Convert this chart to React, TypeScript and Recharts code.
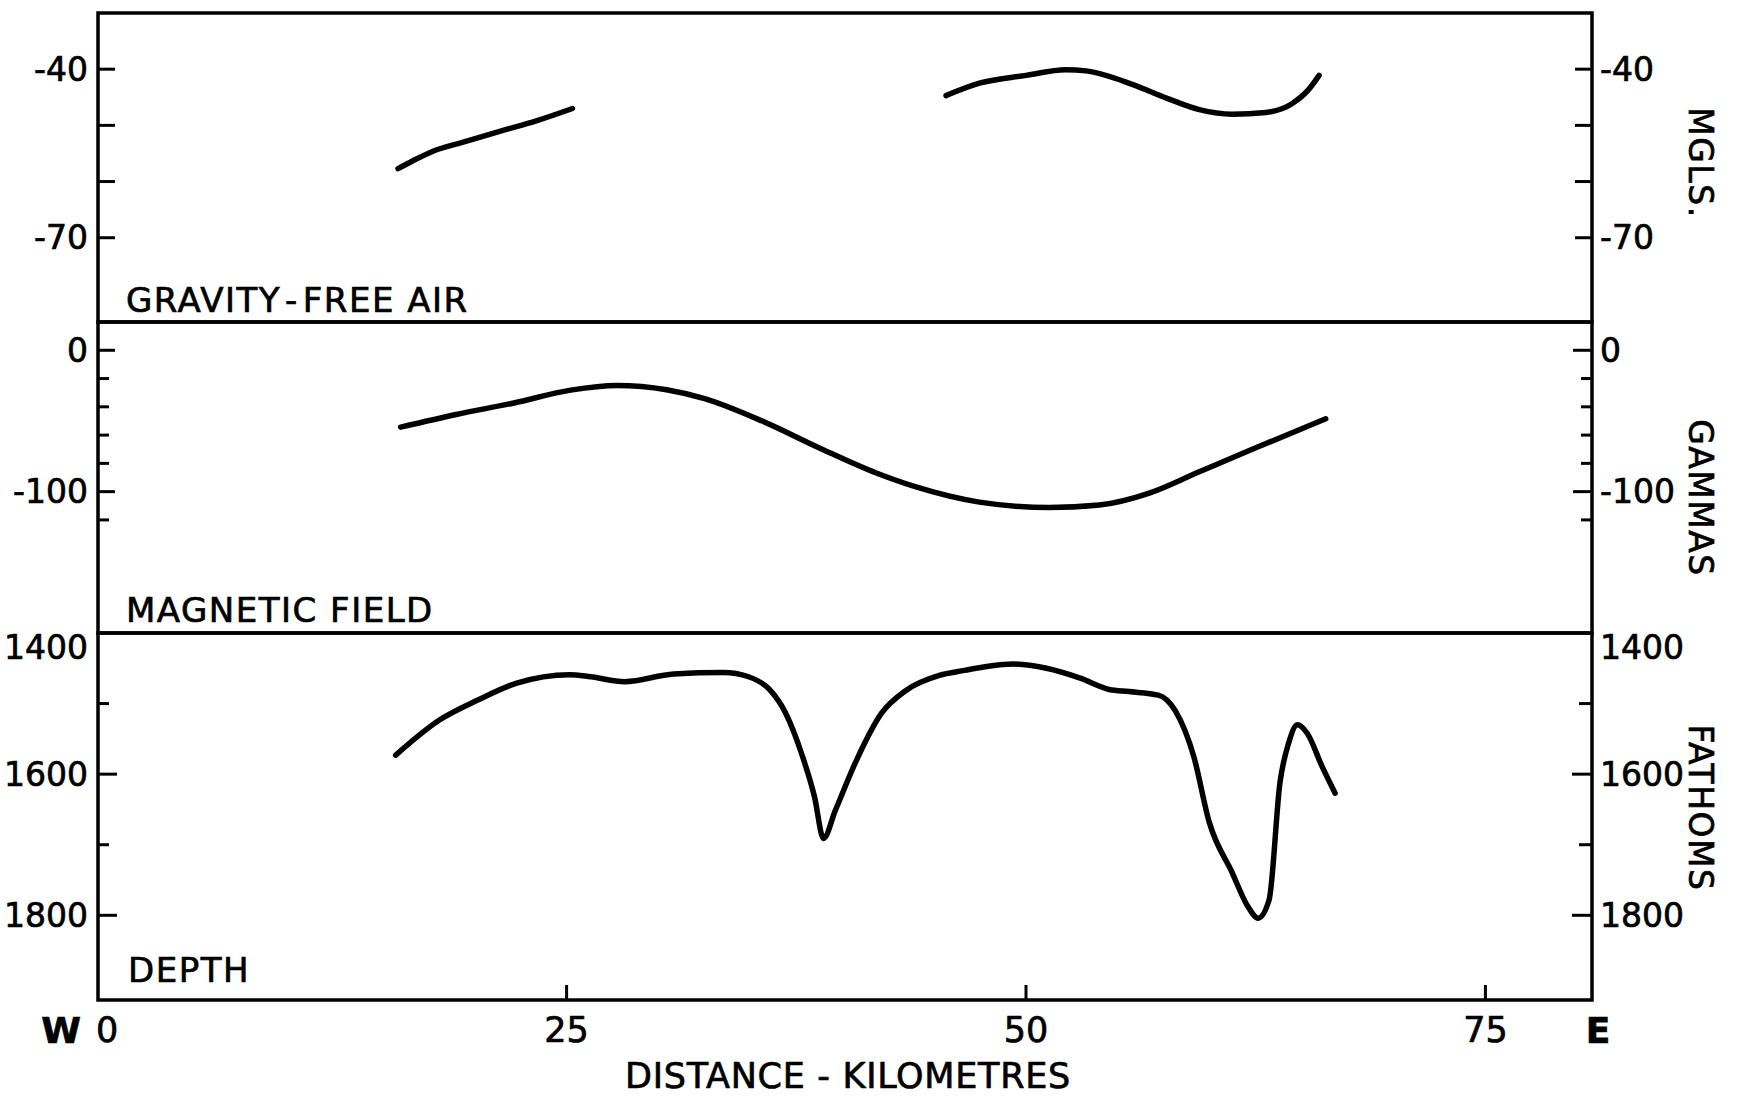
import React from 'react';
import { LineChart, Line, XAxis, YAxis, ReferenceArea } from 'recharts';

const FONT = '"DejaVu Sans", Verdana, sans-serif';
const INK = '#000';

// distance along the profile, kilometres
const KM_DOMAIN: [number, number] = [-0.5, 80.8];
const kmTicks = [0, 25, 50, 75];

// gravity, free air (mgals) - two separate pieces of track
const gravityWestKm = [15.83, 16.64, 17.73, 19.37, 21.54, 23.35, 25.32];
const gravityWestMgal = [-57.7, -56.3, -54.6, -53.0, -50.9, -49.2, -47.0];
const gravityEastKm = [45.65, 47.46, 50.0, 52.17, 53.26, 55.78, 57.61, 59.43, 61.21, 63.05, 64.49, 65.41, 65.95];
const gravityEastMgal = [-44.7, -42.5, -41.1, -40.1, -40.3, -42.7, -45.1, -47.2, -48.0, -47.7, -46.1, -43.5, -41.1];
const gravityTicks = [-40, -50, -60, -70];
const gravityLabels = [-40, -70];

// magnetic field (gammas)
const magneticKm = [15.97, 18.99, 22.13, 25.22, 27.73, 30.44, 32.51, 35.65, 38.76, 41.89, 43.97, 47.46, 51.27, 53.99, 56.71, 59.43, 62.15, 66.31];
const magneticGammas = [-54.4, -45.4, -37.3, -28.2, -24.9, -27.9, -34.2, -50.1, -69.1, -87.0, -96.5, -107.4, -111.2, -109.5, -101.1, -86.0, -70.9, -48.5];
const magneticTicks = [0, -20, -40, -60, -80, -100, -120];
const magneticLabels = [0, -100];

// depth (fathoms)
const depthKm = [
  15.7, 18.1, 20.17, 22.29, 25.17, 26.31, 28.16, 30.82, 33.54, 34.9, 36.04, 36.91, 37.84, 38.49, 38.98, 39.63,
  40.78, 42.13, 43.49, 45.28, 46.65, 47.95, 49.31, 51.11, 52.95, 54.53, 55.61, 57.2, 58.12, 59.13, 59.97, 61.21,
  62.04, 62.63, 63.23, 63.82, 64.29, 64.77, 65.3, 66.11, 66.82,
];
const depthFathoms = [
  1573, 1523, 1495, 1471, 1459, 1462, 1469, 1458, 1456, 1462, 1480, 1513, 1575, 1632, 1691, 1651,
  1580, 1514, 1481, 1460, 1453, 1447, 1444, 1450, 1464, 1480, 1483, 1488, 1510, 1575, 1668, 1739,
  1786, 1804, 1778, 1612, 1556, 1530, 1542, 1589, 1627,
];
const depthTicks = [1400, 1500, 1600, 1700, 1800];
const depthLabels = [1400, 1600, 1800];

const zip = (xs: number[], ys: number[]) => xs.map((km, i) => ({ km, v: ys[i] }));

// frame placement on the page
const PLOT_LEFT = 98;
const PLOT_W = 1495;
const MARGIN_X = { left: PLOT_LEFT - 1, right: 1739 - PLOT_LEFT - PLOT_W };
const CURVE = 5.5;
const FRAME = 3.5;

// text is stroked a little so it reads like the inked lettering
const textInk = { fontFamily: FONT, fill: INK, stroke: INK, strokeWidth: 0.7 };

type TickOpts = {
  labelled: number[];
  lenL: [number, number];
  lenR: [number, number];
  noLine?: number[];
  shift?: Record<number, number>;
};

// one tick renderer draws the scale on both sides of the frame:
// tick marks point inward, numbers sit outside
const yTick = (o: TickOpts) => (props: any) => {
  const { x, y, payload } = props;
  const v = payload.value as number;
  const major = o.labelled.includes(v);
  const xr = x + PLOT_W;
  const dy = (o.shift && o.shift[v]) || 0;
  const drawLine = !(o.noLine || []).includes(v);
  return (
    <g>
      {drawLine && (
        <line x1={x} y1={y} x2={x + (major ? o.lenL[0] : o.lenL[1])} y2={y} stroke={INK} strokeWidth={3} />
      )}
      {drawLine && (
        <line x1={xr} y1={y} x2={xr - (major ? o.lenR[0] : o.lenR[1])} y2={y} stroke={INK} strokeWidth={3} />
      )}
      {major && (
        <text {...textInk} x={x - 10} y={y + dy} textAnchor="end" dominantBaseline="central" fontSize={33}>
          {v}
        </text>
      )}
      {major && (
        <text {...textInk} x={xr + 7} y={y + dy} textAnchor="start" dominantBaseline="central" fontSize={33}>
          {v}
        </text>
      )}
    </g>
  );
};

const xTick = (props: any) => {
  const { x, y, payload } = props;
  const v = payload.value as number;
  return (
    <g>
      {v > 0 && <line x1={x} y1={y} x2={x} y2={y - 15} stroke={INK} strokeWidth={3} />}
      <text {...textInk} x={x} y={y + 30} textAnchor="middle" dominantBaseline="central" fontSize={35}>
        {v}
      </text>
    </g>
  );
};

// parts are set with a little extra room between them (lettering-guide look)
const panelLabel = (parts: string[], gaps: number[], dx: number, gap: number) => (props: any) => {
  const vb = props.viewBox;
  return (
    <text {...textInk} x={vb.x + dx} y={vb.y + vb.height - gap} fontSize={34} letterSpacing={1.5}>
      {parts.map((p, i) => (
        <tspan key={i} dx={i > 0 ? gaps[i - 1] : 0}>
          {p}
        </tspan>
      ))}
    </text>
  );
};

const unitLabel = (text: string, fromTop: number) => (props: any) => {
  const vb = props.viewBox;
  const cx = 1700;
  const cy = vb.y + fromTop;
  return (
    <text
      {...textInk}
      x={cx}
      y={cy}
      transform={`rotate(90 ${cx} ${cy})`}
      textAnchor="middle"
      dominantBaseline="central"
      fontSize={33}
      letterSpacing={1.5}
    >
      {text}
    </text>
  );
};

const distanceLabel = (props: any) => {
  const vb = props.viewBox;
  return (
    <g>
      <text {...textInk} x={61} y={vb.y + 30} textAnchor="middle" dominantBaseline="central" fontSize={36} fontWeight="bold">
        W
      </text>
      <text {...textInk} x={1598} y={vb.y + 30} textAnchor="middle" dominantBaseline="central" fontSize={36} fontWeight="bold">
        E
      </text>
      <text {...textInk} x={848} y={vb.y + 88} textAnchor="middle" fontSize={35} letterSpacing={0.7}>
        DISTANCE - KILOMETRES
      </text>
    </g>
  );
};

export default function App() {
  const gravityWest = zip(gravityWestKm, gravityWestMgal);
  const gravityEast = zip(gravityEastKm, gravityEastMgal);
  const magnetic = zip(magneticKm, magneticGammas);
  const depth = zip(depthKm, depthFathoms);

  const gravityDomain: [number, number] = [-85, -30];
  const magneticDomain: [number, number] = [-200, 20];
  const depthDomain: [number, number] = [1400, 1920];

  // axes are 1px wide (an axis of width 0 is not drawn)
  const yAxisBase = {
    interval: 0 as const,
    width: 1,
    axisLine: false,
    tickLine: false,
    tickSize: 0,
    tickMargin: 0,
  };

  return (
    <div style={{ position: 'absolute', left: 0, top: 0, width: 1739, height: 1096, background: '#fff' }}>
      {/* gravity */}
      <div style={{ position: 'absolute', left: 0, top: 0 }}>
        <LineChart width={1739} height={342} margin={{ top: 13, bottom: 20, ...MARGIN_X }}>
          <XAxis type="number" dataKey="km" domain={KM_DOMAIN} hide allowDataOverflow />
          <YAxis
            yAxisId="l"
            {...yAxisBase}
            domain={gravityDomain}
            ticks={gravityTicks}
            tick={yTick({ labelled: gravityLabels, lenL: [17, 17], lenR: [18, 18] })}
          />
          <YAxis yAxisId="r" orientation="right" {...yAxisBase} domain={gravityDomain} tick={false} label={unitLabel('MGLS.', 150)} />
          <ReferenceArea
            yAxisId="l"
            x1={KM_DOMAIN[0]}
            x2={KM_DOMAIN[1]}
            y1={gravityDomain[0]}
            y2={gravityDomain[1]}
            fill="none"
            stroke={INK}
            strokeWidth={FRAME}
            label={panelLabel(['GRAVITY', '-', 'FREE AIR'], [8, 4], 28, 10)}
          />
          <Line yAxisId="l" data={gravityWest} dataKey="v" type="monotone" stroke={INK} strokeWidth={CURVE} strokeLinecap="round" dot={false} isAnimationActive={false} />
          <Line yAxisId="l" data={gravityEast} dataKey="v" type="monotone" stroke={INK} strokeWidth={CURVE} strokeLinecap="round" dot={false} isAnimationActive={false} />
        </LineChart>
      </div>

      {/* magnetic */}
      <div style={{ position: 'absolute', left: 0, top: 302 }}>
        <LineChart width={1739} height={351} margin={{ top: 20, bottom: 20, ...MARGIN_X }}>
          <XAxis type="number" dataKey="km" domain={KM_DOMAIN} hide allowDataOverflow />
          <YAxis
            yAxisId="l"
            {...yAxisBase}
            domain={magneticDomain}
            ticks={magneticTicks}
            tick={yTick({ labelled: magneticLabels, lenL: [17, 11], lenR: [20, 12] })}
          />
          <YAxis yAxisId="r" orientation="right" {...yAxisBase} domain={magneticDomain} tick={false} label={unitLabel('GAMMAS', 176)} />
          <ReferenceArea
            yAxisId="l"
            x1={KM_DOMAIN[0]}
            x2={KM_DOMAIN[1]}
            y1={magneticDomain[0]}
            y2={magneticDomain[1]}
            fill="none"
            stroke={INK}
            strokeWidth={FRAME}
            label={panelLabel(['MAGNETIC FIELD'], [], 28, 11)}
          />
          <Line yAxisId="l" data={magnetic} dataKey="v" type="monotone" stroke={INK} strokeWidth={CURVE} strokeLinecap="round" dot={false} isAnimationActive={false} />
        </LineChart>
      </div>

      {/* depth */}
      <div style={{ position: 'absolute', left: 0, top: 613 }}>
        <LineChart width={1739} height={483} margin={{ top: 20, bottom: 95, ...MARGIN_X }}>
          <XAxis
            type="number"
            dataKey="km"
            domain={KM_DOMAIN}
            ticks={kmTicks}
            interval={0}
            height={1}
            allowDataOverflow
            axisLine={false}
            tickLine={false}
            tickSize={0}
            tickMargin={0}
            tick={xTick}
            label={distanceLabel}
          />
          <YAxis
            yAxisId="l"
            {...yAxisBase}
            domain={depthDomain}
            reversed
            ticks={depthTicks}
            tick={yTick({ labelled: depthLabels, lenL: [19, 11], lenR: [21, 14], noLine: [1400], shift: { 1400: 14 } })}
          />
          <YAxis yAxisId="r" orientation="right" {...yAxisBase} domain={depthDomain} reversed tick={false} label={unitLabel('FATHOMS', 175)} />
          <ReferenceArea
            yAxisId="l"
            x1={KM_DOMAIN[0]}
            x2={KM_DOMAIN[1]}
            y1={depthDomain[0]}
            y2={depthDomain[1]}
            fill="none"
            stroke={INK}
            strokeWidth={FRAME}
            label={panelLabel(['DEPTH'], [], 30, 18)}
          />
          <Line yAxisId="l" data={depth} dataKey="v" type="monotone" stroke={INK} strokeWidth={CURVE} strokeLinecap="round" dot={false} isAnimationActive={false} />
        </LineChart>
      </div>
    </div>
  );
}
